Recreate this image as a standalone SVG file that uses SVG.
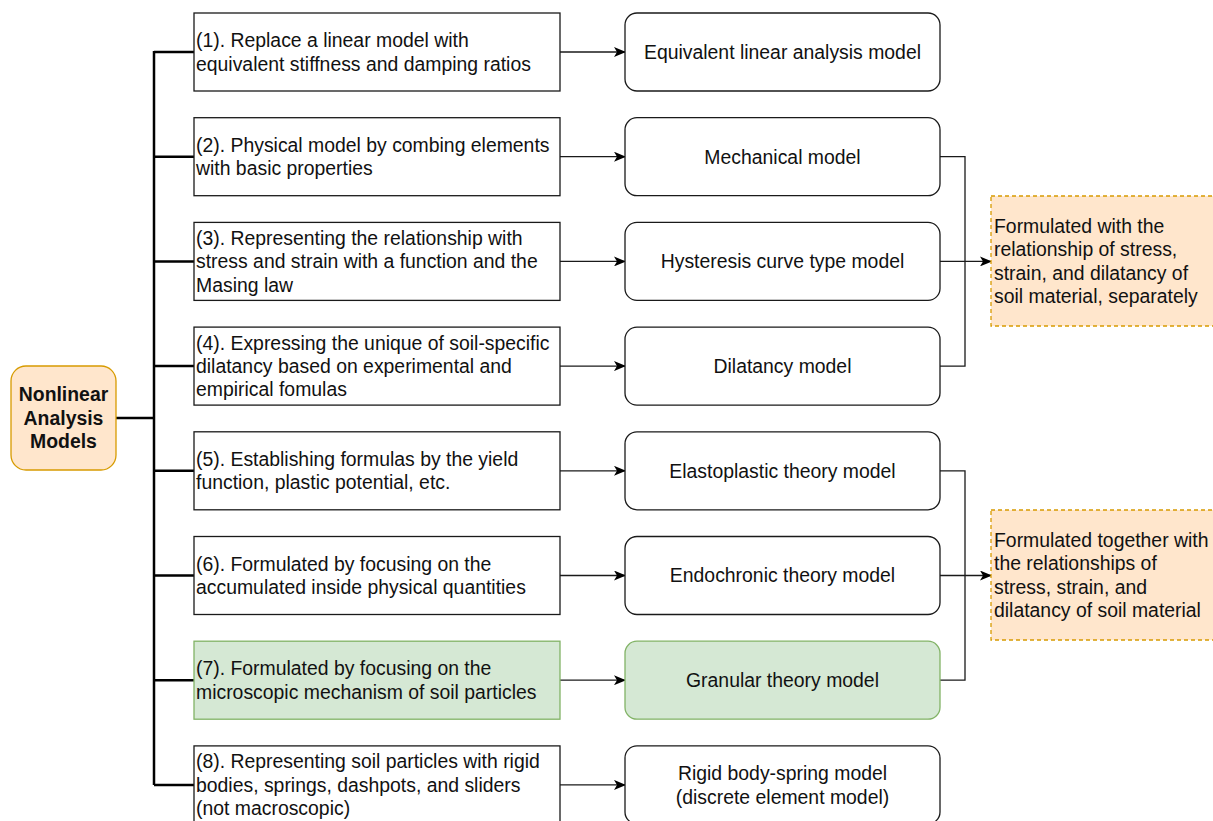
<svg xmlns="http://www.w3.org/2000/svg" width="1213" height="821" viewBox="0 0 1213 821">
  <defs>
    <marker id="arrow" viewBox="0 0 12 10" refX="11" refY="5" markerWidth="12" markerHeight="10" markerUnits="userSpaceOnUse" orient="auto">
      <path d="M0,0 L12,5 L0,10 L3,5 Z" fill="#000"/>
    </marker>
    <style>
      text { font-family: "Liberation Sans", Arial, sans-serif; font-size: 19.4px; fill: #111; }
      .root { fill: #ffe6cc; stroke: #d79b00; stroke-width: 1.3; }
      .root-text { font-weight: bold; text-anchor: middle; }
      .method { fill: #fff; stroke: #1a1a1a; stroke-width: 1.3; }
      .model { fill: #fff; stroke: #1a1a1a; stroke-width: 1.3; }
      .green { fill: #d5e8d4; stroke: #82b366; }
      .note { fill: #ffe6cc; stroke: #d79b00; stroke-width: 1.3; stroke-dasharray: 4 3; }
      .mid { text-anchor: middle; }
      .trunk { fill: none; stroke: #000; stroke-width: 2.5; }
      .link { fill: none; stroke: #1a1a1a; stroke-width: 1.3; }
    </style>
  </defs>

  <!-- tree trunk and branches -->
  <g id="connectors">
    <path class="trunk" d="M116,418 H154 M154,51 V785 M154,52 H194 M154,156.7 H194 M154,261.4 H194 M154,366.1 H194 M154,470.8 H194 M154,575.5 H194 M154,680.2 H194 M154,784.9 H194"/>
    <path class="link" marker-end="url(#arrow)" d="M560,52 H625"/>
    <path class="link" marker-end="url(#arrow)" d="M560,156.7 H625"/>
    <path class="link" marker-end="url(#arrow)" d="M560,261.4 H625"/>
    <path class="link" marker-end="url(#arrow)" d="M560,366.1 H625"/>
    <path class="link" marker-end="url(#arrow)" d="M560,470.8 H625"/>
    <path class="link" marker-end="url(#arrow)" d="M560,575.5 H625"/>
    <path class="link" marker-end="url(#arrow)" d="M560,680.2 H625"/>
    <path class="link" marker-end="url(#arrow)" d="M560,784.9 H625"/>
    <!-- groups feeding the two notes -->
    <path class="link" d="M940,156.7 H965 V366.1 H940"/>
    <path class="link" marker-end="url(#arrow)" d="M940,261.4 H991"/>
    <path class="link" d="M940,470.8 H965 V680.2 H940"/>
    <path class="link" marker-end="url(#arrow)" d="M940,575.5 H991"/>
  </g>

  <g id="root">
    <rect class="root" x="11" y="366" width="105" height="104" rx="15"/>
    <text class="root-text" x="63.5" y="401.4">Nonlinear</text>
    <text class="root-text" x="63.5" y="424.8">Analysis</text>
    <text class="root-text" x="63.5" y="448.2">Models</text>
  </g>

  <g id="method1">
    <rect class="method" x="194" y="13" width="366" height="78"/>
    <text x="196" y="47.1">(1). Replace a linear model with</text>
    <text x="196" y="70.5">equivalent stiffness and damping ratios</text>
  </g>
  <g id="method2">
    <rect class="method" x="194" y="117.7" width="366" height="78"/>
    <text x="196" y="151.8">(2). Physical model by combing elements</text>
    <text x="196" y="175.2">with basic properties</text>
  </g>
  <g id="method3">
    <rect class="method" x="194" y="222.4" width="366" height="78"/>
    <text x="196" y="244.8">(3). Representing the relationship with</text>
    <text x="196" y="268.2">stress and strain with a function and the</text>
    <text x="196" y="291.6">Masing law</text>
  </g>
  <g id="method4">
    <rect class="method" x="194" y="327.1" width="366" height="78"/>
    <text x="196" y="349.5">(4). Expressing the unique of soil-specific</text>
    <text x="196" y="372.9">dilatancy based on experimental and</text>
    <text x="196" y="396.3">empirical fomulas</text>
  </g>
  <g id="method5">
    <rect class="method" x="194" y="431.8" width="366" height="78"/>
    <text x="196" y="465.9">(5). Establishing formulas by the yield</text>
    <text x="196" y="489.3">function, plastic potential, etc.</text>
  </g>
  <g id="method6">
    <rect class="method" x="194" y="536.5" width="366" height="78"/>
    <text x="196" y="570.6">(6). Formulated by focusing on the</text>
    <text x="196" y="594">accumulated inside physical quantities</text>
  </g>
  <g id="method7">
    <rect class="method green" x="194" y="641.2" width="366" height="78"/>
    <text x="196" y="675.3">(7). Formulated by focusing on the</text>
    <text x="196" y="698.7">microscopic mechanism of soil particles</text>
  </g>
  <g id="method8">
    <rect class="method" x="194" y="745.9" width="366" height="78"/>
    <text x="196" y="768.3">(8). Representing soil particles with rigid</text>
    <text x="196" y="791.7">bodies, springs, dashpots, and sliders</text>
    <text x="196" y="815.1">(not macroscopic)</text>
  </g>

  <g id="model1">
    <rect class="model" x="625" y="13" width="315" height="78" rx="12"/>
    <text class="mid" x="782.5" y="58.8">Equivalent linear analysis model</text>
  </g>
  <g id="model2">
    <rect class="model" x="625" y="117.7" width="315" height="78" rx="12"/>
    <text class="mid" x="782.5" y="163.5">Mechanical model</text>
  </g>
  <g id="model3">
    <rect class="model" x="625" y="222.4" width="315" height="78" rx="12"/>
    <text class="mid" x="782.5" y="268.2">Hysteresis curve type model</text>
  </g>
  <g id="model4">
    <rect class="model" x="625" y="327.1" width="315" height="78" rx="12"/>
    <text class="mid" x="782.5" y="372.9">Dilatancy model</text>
  </g>
  <g id="model5">
    <rect class="model" x="625" y="431.8" width="315" height="78" rx="12"/>
    <text class="mid" x="782.5" y="477.6">Elastoplastic theory model</text>
  </g>
  <g id="model6">
    <rect class="model" x="625" y="536.5" width="315" height="78" rx="12"/>
    <text class="mid" x="782.5" y="582.3">Endochronic theory model</text>
  </g>
  <g id="model7">
    <rect class="model green" x="625" y="641.2" width="315" height="78" rx="12"/>
    <text class="mid" x="782.5" y="687">Granular theory model</text>
  </g>
  <g id="model8">
    <rect class="model" x="625" y="745.9" width="315" height="78" rx="12"/>
    <text class="mid" x="782.5" y="780.1">Rigid body-spring model</text>
    <text class="mid" x="782.5" y="803.5">(discrete element model)</text>
  </g>

  <g id="note-separate">
    <rect class="note" x="991" y="196" width="240" height="130"/>
    <text x="994" y="232.7">Formulated with the</text>
    <text x="994" y="256.1">relationship of stress,</text>
    <text x="994" y="279.5">strain, and dilatancy of</text>
    <text x="994" y="302.9">soil material, separately</text>
  </g>
  <g id="note-together">
    <rect class="note" x="991" y="510" width="240" height="130"/>
    <text x="994" y="547">Formulated together with</text>
    <text x="994" y="570.4">the relationships of</text>
    <text x="994" y="593.8">stress, strain, and</text>
    <text x="994" y="617.2">dilatancy of soil material</text>
  </g>
</svg>
